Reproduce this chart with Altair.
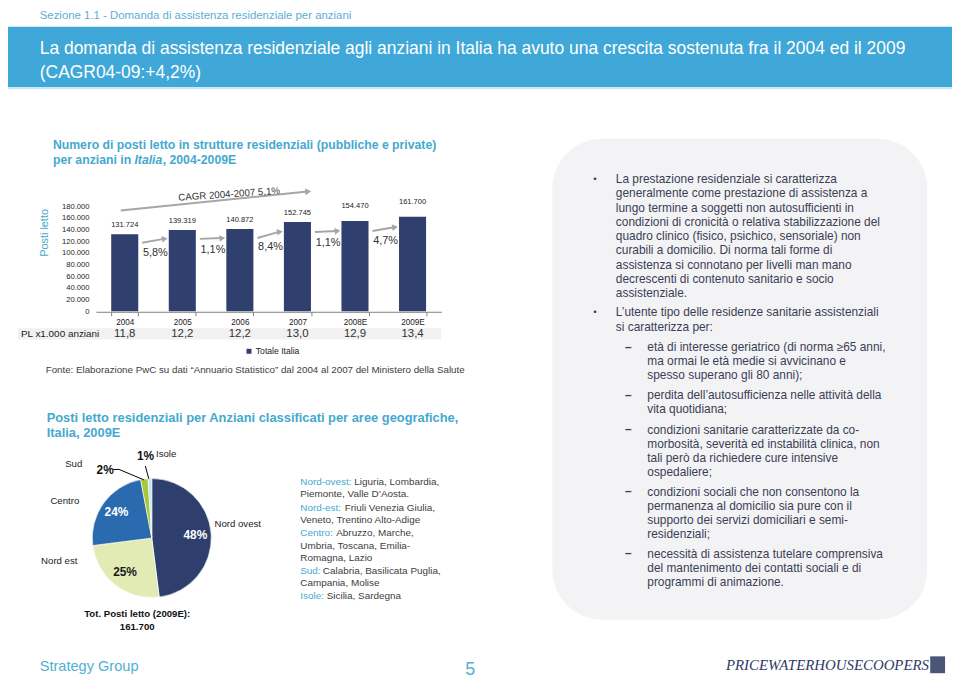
import altair as alt
import pandas as pd

FONT = "Liberation Sans"
TEAL = "#45A9CF"
NAVY = "#2F3F6E"
GREY_TXT = "#404040"
BODY = "#3A4054"
O = 8  # page margin

# ---------------- data ----------------
years = ["2004", "2005", "2006", "2007", "2008E", "2009E"]
beds = [131724, 139319, 140872, 152745, 154470, 161700]
pl_per_1000 = ["11,8", "12,2", "12,2", "13,0", "12,9", "13,4"]
growth = ["5,8%", "1,1%", "8,4%", "1,1%", "4,7%"]
y_ticks = [0, 20000, 40000, 60000, 80000, 100000, 120000, 140000, 160000, 180000]

areas = ["Nord ovest", "Nord est", "Centro", "Sud", "Isole"]
shares = [48, 25, 24, 2, 1]
share_labels = ["48%", "25%", "24%", "2%", "1%"]
area_colors = ["#2E3F6E", "#E3EBB4", "#2A6BB0", "#A8C83A", "#BFE3F5"]

bars_df = pd.DataFrame({"year": years, "beds": beds, "pl": pl_per_1000,
                        "series": ["Totale Italia"] * len(years)})
arrows_df = pd.DataFrame({"from": years[:-1], "to": years[1:], "g": growth,
                          "v0": beds[:-1], "v1": beds[1:]})
cagr_df = pd.DataFrame({"from": ["2004"], "to": ["2007"], "ya": [172500], "yb": [205000]})
pie_df = pd.DataFrame({"area": areas, "share": shares, "lab": share_labels,
                       "ord": list(range(len(areas)))})

one = pd.DataFrame({"k": [0]})


def T(x, y, text, size=10, color=GREY_TXT, weight="normal", font=FONT, align="left",
      baseline="middle", angle=0, lh=None, italic=False):
    kw = dict(align=align, baseline=baseline, fontSize=size, color=color,
              fontWeight=weight, font=font)
    if angle:
        kw["angle"] = angle
    if lh:
        kw["lineHeight"] = lh
    if italic:
        kw["fontStyle"] = "italic"
    return alt.Chart(one).mark_text(**kw).encode(
        x=alt.value(x - O), y=alt.value(y - O), text=alt.value(text))


def ML(x, y, lines, size=12, color=BODY, lh=14.4):
    # multi-line paragraph, y = centre of first line
    return T(x, y + 0.36 * size, lines, size=size, color=color, baseline="alphabetic", lh=lh)


def R(x1, y1, x2, y2, color, radius=0):
    kw = dict(color=color)
    if radius:
        kw["cornerRadius"] = radius
    return alt.Chart(one).mark_rect(**kw).encode(
        x=alt.value(x1 - O), x2=alt.value(x2 - O), y=alt.value(y1 - O), y2=alt.value(y2 - O))


def LN(x1, y1, x2, y2, color="black", w=1):
    return alt.Chart(one).mark_rule(color=color, strokeWidth=w).encode(
        x=alt.value(x1 - O), x2=alt.value(x2 - O), y=alt.value(y1 - O), y2=alt.value(y2 - O))


layers = []

# ---------------- slide furniture ----------------
layers.append(T(40, 13, "Sezione 1.1 - Domanda di assistenza residenziale per anziani",
                size=11.5, color="#5AB0D2"))
layers.append(R(0, 24, 960, 85, "#3FA8D8"))
layers.append(R(0, 85, 960, 87, "#CDE8F5"))
layers.append(T(40, 47, "La domanda di assistenza residenziale agli anziani in Italia ha avuto una crescita sostenuta fra il 2004 ed il 2009",
                size=17.6, color="white"))
layers.append(T(40, 71, "(CAGR04-09:+4,2%)", size=17.6, color="white"))

# right panel
layers.append(R(557, 137, 935, 622, "#F3F3F5", radius=50))
layers.append(T(600, 177.3, "•", size=10, color=BODY, align="center"))
layers.append(ML(621, 177.3, ["La prestazione residenziale si caratterizza",
                              "generalmente come prestazione di assistenza a",
                              "lungo termine a soggetti non autosufficienti in",
                              "condizioni di cronicità o relativa stabilizzazione del",
                              "quadro clinico (fisico, psichico, sensoriale) non",
                              "curabili a domicilio. Di norma tali forme di",
                              "assistenza si connotano per livelli man mano",
                              "decrescenti di contenuto sanitario e socio",
                              "assistenziale."]))
layers.append(T(600, 311.7, "•", size=10, color=BODY, align="center"))
layers.append(ML(621, 311.7, ["L’utente tipo delle residenze sanitarie assistenziali",
                              "si caratterizza per:"]))
dash_items = [
    (347, ["età di interesse geriatrico (di norma ≥65 anni,",
           "ma ormai le età medie si avvicinano e",
           "spesso superano gli 80 anni);"]),
    (395, ["perdita dell’autosufficienza nelle attività della",
           "vita quotidiana;"]),
    (430, ["condizioni sanitarie caratterizzate da co-",
           "morbosità, severità ed instabilità clinica, non",
           "tali però da richiedere cure intensive",
           "ospedaliere;"]),
    (492.7, ["condizioni sociali che non consentono la",
             "permanenza al domicilio sia pure con il",
             "supporto dei servizi domiciliari e semi-",
             "residenziali;"]),
    (555, ["necessità di assistenza tutelare comprensiva",
           "del mantenimento dei contatti sociali e di",
           "programmi di animazione."]),
]
for yy, lines in dash_items:
    layers.append(T(633.5, yy, "–", size=12, color=BODY, weight="bold", align="center"))
    layers.append(ML(652.7, yy, lines, lh=14.2))

# footer
layers.append(T(40, 670, "Strategy Group", size=14.7, color="#4FB0D4"))
layers.append(T(474, 673, "5", size=18, color="#4FB0D4", align="center"))
layers.append(T(732, 668, "PRICEWATERHOUSECOOPERS", size=15, color="#2E3A66",
                font="Liberation Serif", italic=True))
layers.append(R(938, 659, 953, 676, "#4A5578"))

# ---------------- bar chart ----------------
layers.append(T(53.3, 143.5, "Numero di posti letto in strutture residenziali (pubbliche e private)",
                size=12.35, color=TEAL, weight="bold"))
layers.append(T(53.3, 158.5, "per anziani in", size=12.35, color=TEAL, weight="bold"))
layers.append(T(135.5, 158.5, "Italia", size=12.35, color=TEAL, weight="bold", italic=True))
layers.append(T(164, 158.5, ", 2004-2009E", size=12.35, color=TEAL, weight="bold"))
layers.append(T(45, 232, "Posti letto", size=11, color=TEAL, align="center", angle=270))

# grey strip for PL row
layers.append(R(18, 328, 445, 339.5, "#F1F1F1"))

xs = alt.Scale(domain=years, range=[96.7 - O, 445 - O], paddingInner=0.53, paddingOuter=0.265)
ys = alt.Scale(domain=[0, 180000], range=[311 - O, 205 - O], nice=False, zero=True)

x_axis = alt.Axis(orient="bottom", offset=-(672 - (311.5 - O)), title=None, labelAngle=0,
                  labelFontSize=8.2, labelFont=FONT, labelColor="#222", domainColor="#808080",
                  tickColor="#808080", tickBand="extent", tickSize=4, labelPadding=3, grid=False)
y_axis = alt.Axis(orient="left", offset=-(96.7 - O), title=None, values=y_ticks,
                  labelExpr="replace(format(datum.value, ','), ',', '.')",
                  labelFontSize=7.7, labelFont=FONT, labelColor="#222", domain=False,
                  ticks=False, tickSize=0, labelPadding=7, grid=False)


def X(field, bp=None):
    if bp is None:
        return alt.X(field, scale=xs, axis=x_axis, title=None)
    return alt.X(field, scale=xs, axis=x_axis, title=None, bandPosition=bp)


def Y(field):
    return alt.Y(field, scale=ys, axis=y_axis, title=None)


bars = alt.Chart(bars_df).mark_bar().encode(
    x=X("year:N"), y=Y("beds:Q"),
    color=alt.Color("series:N", scale=alt.Scale(range=[NAVY]),
                    legend=alt.Legend(orient="none", legendX=246.7 - O, legendY=347 - O,
                                      title=None, symbolType="square", symbolSize=25,
                                      labelFontSize=8.7, labelFont=FONT, labelColor="#222",
                                      padding=0, labelOffset=2.5, symbolStrokeWidth=0)))
layers.append(bars)

lab_expr = "replace(format(datum.beds, ','), ',', '.')"
layers.append(alt.Chart(bars_df).transform_calculate(lab=lab_expr)
              .transform_filter("datum.beds < 153000")
              .mark_text(fontSize=7.6, font=FONT, color="#222", dy=-9)
              .encode(x=X("year:N"), y=Y("beds:Q"), text="lab:N"))
layers.append(alt.Chart(bars_df).transform_calculate(lab=lab_expr)
              .transform_filter("datum.beds >= 153000")
              .mark_text(fontSize=7.6, font=FONT, color="#222", dy=-15)
              .encode(x=X("year:N"), y=Y("beds:Q"), text="lab:N"))

# PL row
layers.append(T(21, 334, "PL x1.000 anziani", size=10, color="#222"))
layers.append(alt.Chart(bars_df).mark_text(fontSize=11.5, font=FONT, color="#333")
              .encode(x=X("year:N"), y=alt.value(334 - O), text="pl:N"))

# growth arrows
arr = alt.Chart(arrows_df).transform_calculate(
    y0="datum.v0 * 0.89", y1="datum.v1 * 0.89", ym="(datum.v0 + datum.v1) * 0.445")
layers.append(arr.mark_rule(color="#A6A6A6", strokeWidth=2, xOffset=4, x2Offset=-5).encode(
    x=X("from:N", 1), x2=alt.X2("to:N", bandPosition=0), y=Y("y0:Q"), y2="y1:Q"))
layers.append(arr.mark_point(shape="triangle-right", filled=True, size=45, color="#A6A6A6",
                             opacity=1, angle=352, xOffset=-4).encode(
    x=X("to:N", 0), y=Y("y1:Q")))
layers.append(arr.mark_text(fontSize=11, font=FONT, color="#333", dy=12, dx=-13.5).encode(
    x=X("to:N", 0), y=Y("ym:Q"), text="g:N"))

# CAGR arrow
cg = alt.Chart(cagr_df)
layers.append(cg.mark_rule(color="#A6A6A6", strokeWidth=2).encode(
    x=X("from:N", 0.35), x2=alt.X2("to:N", bandPosition=0.88), y=Y("ya:Q"), y2="yb:Q"))
layers.append(cg.mark_point(shape="triangle-right", filled=True, size=50, color="#A6A6A6",
                            opacity=1, angle=354).encode(x=X("to:N", 0.9), y=Y("yb:Q")))
layers.append(T(231, 193, "CAGR 2004-2007 5,1%", size=9.8, color="#333", align="center", angle=356))

layers.append(T(46, 370, "Fonte: Elaborazione PwC su dati “Annuario Statistico” dal 2004 al 2007 del Ministero della Salute",
                size=9.85, color=GREY_TXT))

# ---------------- pie chart ----------------
layers.append(T(47, 419, "Posti letto residenziali per Anziani classificati per aree geografiche,",
                size=13, color=TEAL, weight="bold"))
layers.append(T(47, 434, "Italia, 2009E", size=13, color=TEAL, weight="bold"))

CX, CY = 153 - O, 539.7 - O
theta = alt.Theta("share:Q", stack=True)
layers.append(alt.Chart(pie_df).mark_arc(outerRadius=60, stroke="white", strokeWidth=0.6).encode(
    theta=theta, order=alt.Order("ord:Q"),
    color=alt.Color("area:N", scale=alt.Scale(domain=areas, range=area_colors), legend=None),
    x=alt.value(CX), y=alt.value(CY)))
layers.append(alt.Chart(pie_df).transform_calculate(big="datum.share > 10 ? datum.lab : ''")
              .mark_text(radius=44, fontSize=12, fontWeight="bold", font=FONT).encode(
    theta=theta, order=alt.Order("ord:Q"), text="big:N",
    color=alt.condition("datum.area == 'Nord est'", alt.value("#1A1A1A"), alt.value("white")),
    x=alt.value(CX), y=alt.value(CY)))

layers.append(T(74.3, 465, "Sud", size=9.7, color="#222", align="center"))
layers.append(T(65.3, 502.7, "Centro", size=9.7, color="#222", align="center"))
layers.append(T(59.7, 563.3, "Nord est", size=9.7, color="#222", align="center"))
layers.append(T(239.7, 526, "Nord ovest", size=9.7, color="#222", align="center"))
layers.append(T(167.5, 455, "Isole", size=9.7, color="#222", align="center"))
layers.append(T(106, 471, "2%", size=12, color="#111", weight="bold", align="center"))
layers.append(T(146.7, 456.5, "1%", size=12, color="#111", weight="bold", align="center"))
layers.append(LN(114, 470.5, 120, 470.5))
layers.append(LN(120, 470.5, 145, 481))
layers.append(LN(146.5, 467, 150, 480))
layers.append(T(138.3, 616.7, "Tot. Posti letto (2009E):", size=9.7, color="#111",
                weight="bold", align="center"))
layers.append(T(138.3, 629, "161.700", size=9.7, color="#111", weight="bold", align="center"))

# pie region legend text
key_rows = [
    (483, "Nord-ovest:", "Liguria, Lombardia,", 357.3),
    (509, "Nord-est:", "Friuli Venezia Giulia,", 347.5),
    (535, "Centro:", "Abruzzo, Marche,", 339),
    (573, "Sud:", "Calabria, Basilicata Puglia,", 325.5),
    (598, "Isole:", "Sicilia, Sardegna", 329.4),
]
for yy, key, rest, rx in key_rows:
    layers.append(T(302.7, yy, key, size=10, color=TEAL))
    layers.append(T(rx, yy, rest, size=10, color=GREY_TXT))
layers.append(T(302.7, 495.5, "Piemonte, Valle D’Aosta.", size=10, color=GREY_TXT))
layers.append(T(302.7, 521.5, "Veneto, Trentino Alto-Adige", size=10, color=GREY_TXT))
layers.append(T(302.7, 547.5, "Umbria, Toscana, Emilia-", size=10, color=GREY_TXT))
layers.append(T(302.7, 560, "Romagna, Lazio", size=10, color=GREY_TXT))
layers.append(T(302.7, 585.5, "Campania, Molise", size=10, color=GREY_TXT))

chart = (alt.layer(*layers)
         .resolve_scale(color="independent")
         .properties(width=952, height=672, padding=0, autosize=alt.AutoSizeParams(type="none"))
         .configure(background="white")
         .configure_view(stroke=None))

chart.save("out.html", embed_options={"renderer": "svg", "actions": False})
